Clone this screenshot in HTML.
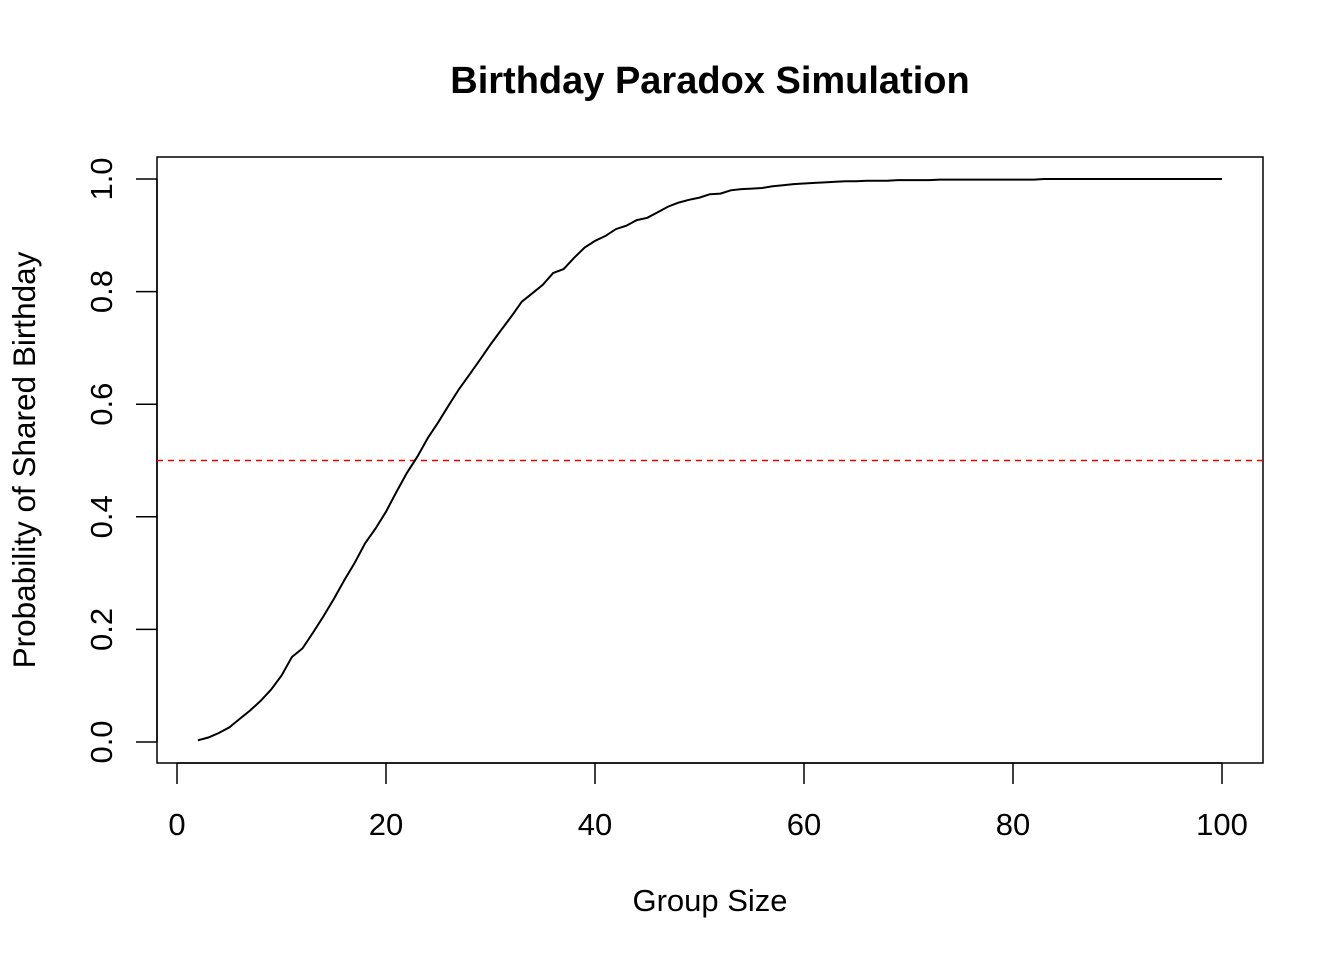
<!DOCTYPE html>
<html><head><meta charset="utf-8"><style>
html,body{margin:0;padding:0;background:#fff}
svg text{font-family:"Liberation Sans",Arial,sans-serif}
</style></head><body>
<svg id="chart" width="1344" height="960" xmlns="http://www.w3.org/2000/svg">
<rect x="0" y="0" width="1344" height="960" fill="#fff"/>
<text x="710" y="93" text-anchor="middle" font-size="38" font-weight="bold">Birthday Paradox Simulation</text>
<rect x="157" y="157" width="1106" height="606" fill="none" stroke="#000" stroke-width="1.5"/>
<text x="710" y="911" text-anchor="middle" font-size="31">Group Size</text>
<text transform="translate(35,460) rotate(-90)" text-anchor="middle" font-size="31.5">Probability of Shared Birthday</text>
<g id="xaxis"></g>
<g id="yaxis"></g>
<line id="refline" stroke="#e00" stroke-width="1.5" stroke-dasharray="6,5"/>
<path id="curve" fill="none" stroke="#000" stroke-width="2"/>
</svg>
<script>
const groupSizes = Array.from({length:99},(_, i)=>i+2);
const probabilities = [.003,.008,.016,.026,.041,.056,.073,.093,.118,.151,.166,.194,.223,.254,.287,.318,.353,.379,.409,.444,.478,.507,.540,.568,.598,.627,.653,.679,.706,.731,.756,.782,.797,.812,.833,.840,.860,.878,.890,.899,.911,.917,.927,.931,.941,.951,.958,.963,.967,.973,.974,.980,.982,.983,.984,.987,.989,.991,.992,.993,.994,.995,.996,.996,.997,.997,.997,.998,.998,.998,.998,.999,.999,.999,.999,.999,.999,.999,.999,.999,.999,1,1,1,1,1,1,1,1,1,1,1,1,1,1,1,1,1,1];
const xTicks = [0,20,40,60,80,100];
const yTicks = [0.0,0.2,0.4,0.6,0.8,1.0];
const yTickLabels = ["0.0","0.2","0.4","0.6","0.8","1.0"];
const threshold = 0.5;
const NS="http://www.w3.org/2000/svg";
const X = v => 177 + v*10.45;
const Y = v => 742 - v*563;
const xa=document.getElementById('xaxis'), ya=document.getElementById('yaxis');
function mk(tag, attrs){const e=document.createElementNS(NS,tag);for(const k in attrs)e.setAttribute(k,attrs[k]);return e;}
let l=mk('line',{x1:X(0),x2:X(100),y1:763,y2:763,stroke:'#000','stroke-width':1.5});


xa.appendChild(l);
xTicks.forEach(t=>{
  const tk=mk('line',{x1:X(t),x2:X(t),y1:763,y2:784,stroke:'#000','stroke-width':1.5});
  
  
  xa.appendChild(tk);
  const tx=mk('text',{x:X(t),y:835,'text-anchor':'middle','font-size':31});
  
  
  tx.textContent=t;xa.appendChild(tx);
});
l=mk('line',{x1:157,x2:157,y1:Y(0),y2:Y(1),stroke:'#000','stroke-width':1.5});


ya.appendChild(l);
yTicks.forEach((t,i)=>{
  const tk=mk('line',{x1:136,x2:157,y1:Y(t),y2:Y(t),stroke:'#000','stroke-width':1.5});
  
  
  ya.appendChild(tk);
  const tx=mk('text',{transform:`translate(112,${Y(t)}) rotate(-90)`,'text-anchor':'middle','font-size':31});
  
  
  tx.textContent=yTickLabels[i];ya.appendChild(tx);
});
const rl=document.getElementById('refline');
rl.setAttribute('x1',157);rl.setAttribute('x2',1263);
rl.setAttribute('y1',Y(threshold));rl.setAttribute('y2',Y(threshold));
document.getElementById('curve').setAttribute('d',groupSizes.map((g,i)=>(i?'L':'M')+X(g).toFixed(1)+','+Y(probabilities[i]).toFixed(1)).join(''));
</script>
</body></html>
